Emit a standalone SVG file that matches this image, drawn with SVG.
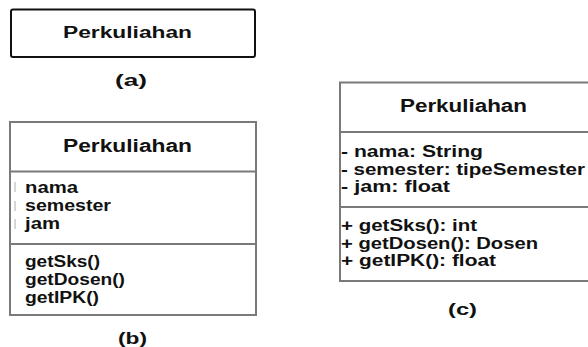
<svg xmlns="http://www.w3.org/2000/svg" width="588" height="347" viewBox="0 0 588 347">
<style>
text{font-family:"Liberation Sans",Arial,sans-serif;font-weight:bold;font-size:16px;fill:#111}
.title{font-size:17.5px}
.lbl{font-size:17px}
.box{fill:#fff;stroke:#7a7a7a;stroke-width:2}
.div{stroke:#7a7a7a;stroke-width:2}
.tick{stroke:#c8c8c8;stroke-width:1.5}
</style>
<rect width="588" height="347" fill="#fff"/>
<g id="classA">
<rect x="11" y="9.5" width="244" height="47.5" rx="2" fill="#fff" stroke="#111" stroke-width="2"/>
<text x="63" y="37.5" textLength="129" lengthAdjust="spacingAndGlyphs">Perkuliahan</text>
</g>
<text class="lbl" x="115" y="86" textLength="32" lengthAdjust="spacingAndGlyphs">(a)</text>
<g id="classB">
<rect class="box" x="10" y="122" width="246" height="193"/>
<line class="div" x1="10" y1="171.5" x2="256" y2="171.5"/>
<line class="div" x1="10" y1="244" x2="256" y2="244"/>
<text class="title" x="63" y="152" textLength="129" lengthAdjust="spacingAndGlyphs">Perkuliahan</text>
<line class="tick" x1="15" y1="182" x2="15" y2="192"/>
<line class="tick" x1="15" y1="201" x2="15" y2="211"/>
<line class="tick" x1="15" y1="219" x2="15" y2="229"/>
<text x="25" y="193" textLength="53" lengthAdjust="spacingAndGlyphs">nama</text>
<text x="25" y="211" textLength="86" lengthAdjust="spacingAndGlyphs">semester</text>
<text x="25" y="229" textLength="35" lengthAdjust="spacingAndGlyphs">jam</text>
<text x="25" y="267" textLength="75" lengthAdjust="spacingAndGlyphs">getSks()</text>
<text x="25" y="285" textLength="100" lengthAdjust="spacingAndGlyphs">getDosen()</text>
<text x="25" y="303" textLength="74" lengthAdjust="spacingAndGlyphs">getIPK()</text>
</g>
<text class="lbl" x="118" y="344" textLength="29" lengthAdjust="spacingAndGlyphs">(b)</text>
<g id="classC">
<rect class="box" x="340" y="82.5" width="260" height="198.5"/>
<line class="div" x1="340" y1="132" x2="600" y2="132"/>
<line class="div" x1="340" y1="207" x2="600" y2="207"/>
<text class="title" x="400" y="112" textLength="127" lengthAdjust="spacingAndGlyphs">Perkuliahan</text>
<text x="341" y="156.5" textLength="142" lengthAdjust="spacingAndGlyphs">- nama: String</text>
<text x="341" y="174.5" textLength="244" lengthAdjust="spacingAndGlyphs">- semester: tipeSemester</text>
<text x="341" y="192" textLength="109" lengthAdjust="spacingAndGlyphs">- jam: float</text>
<text x="341" y="231" textLength="136" lengthAdjust="spacingAndGlyphs">+ getSks(): int</text>
<text x="341" y="248.5" textLength="197" lengthAdjust="spacingAndGlyphs">+ getDosen(): Dosen</text>
<text x="341" y="266" textLength="155" lengthAdjust="spacingAndGlyphs">+ getIPK(): float</text>
</g>
<text class="lbl" x="448" y="315" textLength="29" lengthAdjust="spacingAndGlyphs">(c)</text>
</svg>
